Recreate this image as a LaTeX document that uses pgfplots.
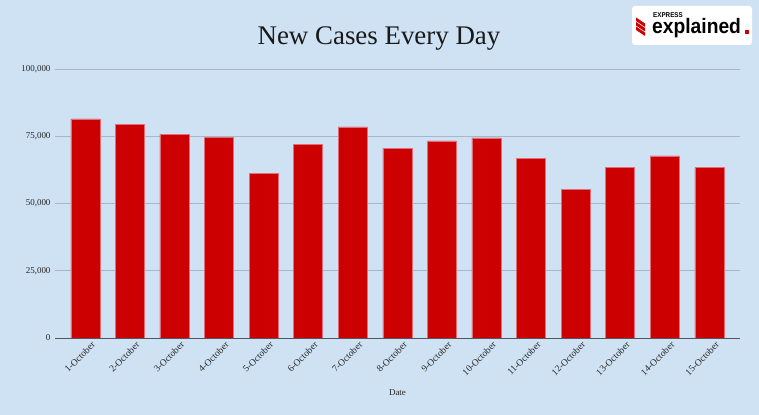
\documentclass[border=0pt]{standalone}
\usepackage{pgfplots}
\pgfplotsset{compat=1.18}
\usepackage{fontspec}
\setmainfont{Liberation Serif}
\setsansfont{Liberation Sans}
\definecolor{bg}{RGB}{207,226,243}
\definecolor{barred}{RGB}{204,0,0}
\definecolor{baredge}{RGB}{225,110,120}
\definecolor{gridc}{RGB}{168,183,199}
\definecolor{basec}{RGB}{80,85,95}
\definecolor{tickc}{RGB}{40,40,40}
\begin{document}
\begin{tikzpicture}
\fill[bg] (0,0) rectangle (759bp,415bp);
\useasboundingbox (0,0) rectangle (759bp,415bp);
\begin{axis}[
  at={(55bp,77bp)}, anchor=south west,
  scale only axis, width=685bp, height=269bp,
  xmin=-0.68, xmax=14.69, ymin=0, ymax=100000,
  axis line style={draw=none},
  major tick length=0pt,
  ymajorgrids, grid style={gridc, line width=0.8bp},
  ytick={25000,50000,75000,100000},
  yticklabels={{25,000},{50,000},{75,000},{100,000}},
  scaled y ticks=false,
  extra y ticks={0},
  extra y tick labels={0},
  extra y tick style={grid style={basec, line width=1bp}},
  y tick label style={font=\fontsize{9}{10}\selectfont, text=tickc, xshift=-1bp},
  xtick={0,...,14},
  xticklabels={1-October,2-October,3-October,4-October,5-October,6-October,7-October,8-October,9-October,10-October,11-October,12-October,13-October,14-October,15-October},
  x tick label style={rotate=45, anchor=north east, font=\fontsize{9.5}{10}\selectfont, text=tickc, inner sep=1pt, xshift=3bp, yshift=-5bp},
  xlabel={Date},
  xlabel style={font=\fontsize{9}{10}\selectfont, text=tickc, at={(axis description cs:0.5,0)}, anchor=center, yshift=-55bp},
]
\addplot[ybar, bar width=29bp, fill=barred, draw=baredge, line width=0.5bp] coordinates {
(0,81484) (1,79476) (2,75829) (3,74442) (4,61267) (5,72049) (6,78524) (7,70496)
(8,73272) (9,74383) (10,66732) (11,55342) (12,63509) (13,67708) (14,63371)};
\end{axis}
% title
\node[anchor=base, inner sep=0pt, font=\fontsize{27}{30}\selectfont, text=black!90] at (379bp,370bp) {New Cases Every Day};
% logo
\fill[white, rounded corners=3bp] (632bp,370bp) rectangle (752bp,409bp);
\foreach \d in {0,4.5,9} {
  \fill[barred] (636bp,385bp+\d bp) -- (645bp,379bp+\d bp) -- (645bp,382.5bp+\d bp) -- (636bp,388.5bp+\d bp) -- cycle;
}
\node[anchor=south west, inner sep=0pt, font=\sffamily\bfseries\fontsize{7}{7}\selectfont, text=black, xscale=0.9] at (653bp,397bp) {EXPRESS};
\node[anchor=base west, inner sep=0pt, font=\sffamily\bfseries\fontsize{21}{22}\selectfont, text=black, xscale=0.92] at (652bp,381bp) {explained};
\fill[barred] (745bp,381bp) rectangle (749bp,385bp);
\end{tikzpicture}
\end{document}
